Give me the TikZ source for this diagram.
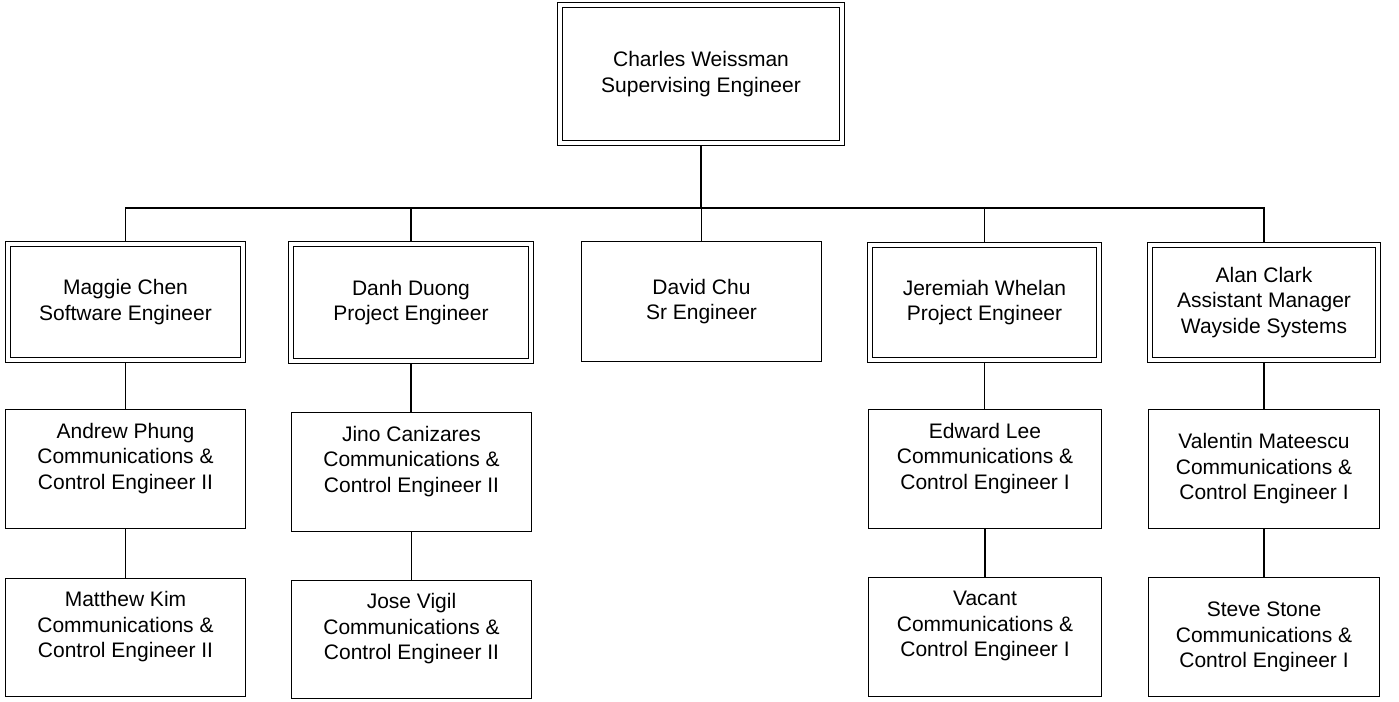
\documentclass[tikz,border=0pt]{standalone}
\usepackage{fontspec}
\setmainfont{Liberation Sans}
\usetikzlibrary{backgrounds}
\tikzset{
  base/.style={draw=black, fill=white, line width=1.3pt, inner sep=0pt, align=center,
    font=\fontsize{21}{25.5}\selectfont},
  dbox/.style={base, double=white, double distance=3.3pt},
  sbox/.style={base},
  conn/.style={draw=black, line width=1.3pt},
}
\begin{document}
\begin{tikzpicture}[x=1pt,y=-1pt]
\useasboundingbox (0,0) rectangle (1399,701);
% top
\node[dbox, minimum width=282pt, minimum height=138pt] (top) at (701,74) {Charles Weissman\\Supervising Engineer};
% managers
\node[dbox, minimum width=235pt, minimum height=116pt] (maggie) at (125.5,302) {Maggie Chen\\Software Engineer};
\node[dbox, minimum width=240pt, minimum height=117pt] (danh) at (411,302.5) {Danh Duong\\Project Engineer};
\node[sbox, minimum width=240pt, minimum height=120pt] (david) at (701.5,301.5) {David Chu\\Sr Engineer};
\node[dbox, minimum width=229pt, minimum height=115pt] (jeremiah) at (984.5,302.5) {Jeremiah Whelan\\Project Engineer};
\node[dbox, minimum width=228pt, minimum height=115pt] (alan) at (1264,302.5) {Alan Clark\\Assistant Manager\\Wayside Systems};
% third row
\node[sbox, minimum width=240pt, minimum height=119pt] (andrew) at (125.5,469) {Andrew Phung\\Communications \&\\Control Engineer II\\~};
\node[sbox, minimum width=240pt, minimum height=118pt] (matthew) at (125.5,637.5) {Matthew Kim\\Communications \&\\Control Engineer II\\~};
\node[sbox, minimum width=240pt, minimum height=119pt] (jino) at (411.5,472) {Jino Canizares\\Communications \&\\Control Engineer II\\~};
\node[sbox, minimum width=240pt, minimum height=118pt] (jose) at (411.5,639.5) {Jose Vigil\\Communications \&\\Control Engineer II\\~};
\node[sbox, minimum width=233pt, minimum height=119pt] (edward) at (985,469) {Edward Lee\\Communications \&\\Control Engineer I\\~};
\node[sbox, minimum width=233pt, minimum height=119pt] (vacant) at (985,637) {Vacant\\Communications \&\\Control Engineer I\\~};
\node[sbox, minimum width=231pt, minimum height=119pt] (valentin) at (1264,469) {Valentin Mateescu\\Communications \&\\Control Engineer I};
\node[sbox, minimum width=231pt, minimum height=119pt] (steve) at (1264,637) {Steve Stone\\Communications \&\\Control Engineer I};
\begin{scope}[on background layer]
\coordinate (bus) at (701,208);
\draw[conn, line width=2pt] (top.south) -- (bus);
\foreach \m in {maggie,danh,david,jeremiah,alan}{
  \draw[conn, line width=1.5pt] (\m.north) |- (bus);
}
\draw[conn] (maggie.south) -- (maggie.south |- andrew.north);
\draw[conn] (andrew.south) -- (andrew.south |- matthew.north);
\draw[conn] (danh.south) -- (danh.south |- jino.north);
\draw[conn] (jino.south) -- (jino.south |- jose.north);
\draw[conn] (jeremiah.south) -- (jeremiah.south |- edward.north);
\draw[conn] (edward.south) -- (edward.south |- vacant.north);
\draw[conn] (alan.south) -- (alan.south |- valentin.north);
\draw[conn] (valentin.south) -- (valentin.south |- steve.north);
\end{scope}
\end{tikzpicture}
\end{document}
